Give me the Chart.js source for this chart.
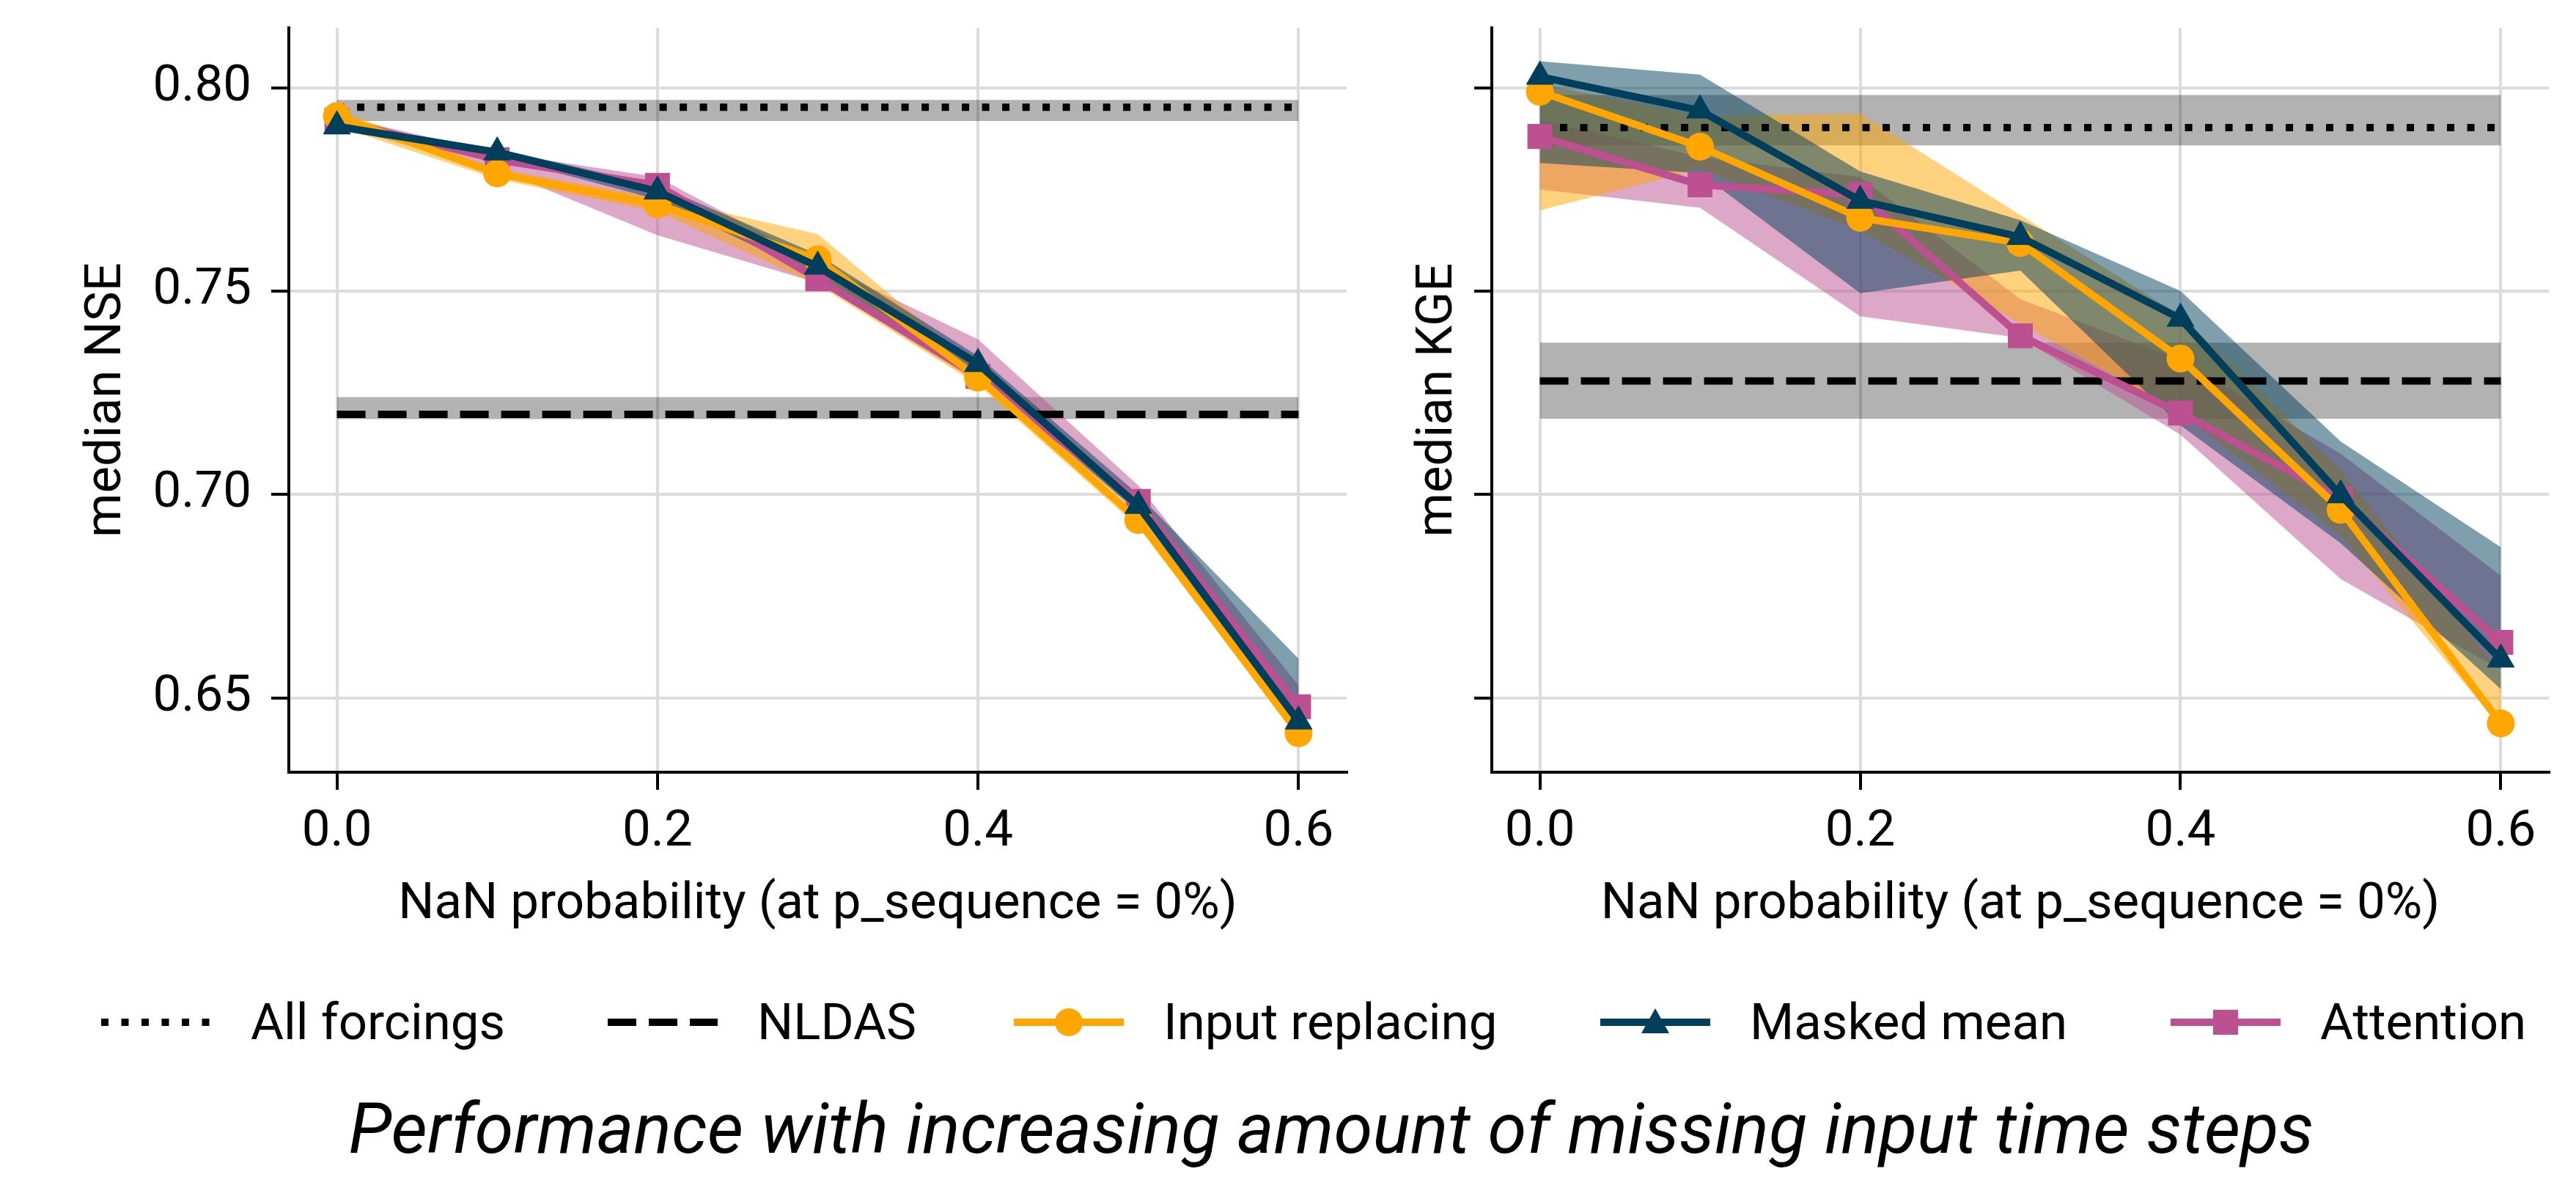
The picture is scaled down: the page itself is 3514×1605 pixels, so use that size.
<!DOCTYPE html>
<html lang="en">
<head>
  <meta charset="UTF-8" />
  <title>Performance with increasing amount of missing input time steps</title>
  <script src="https://cdn.jsdelivr.net/npm/chart.js"></script>
  <style>
    body {
      margin: 0;
      background: #fff;
      font-family: Roboto, sans-serif;
      color: #000;
    }

    #page {
      position: relative;
      width: 3514px;
      height: 1605px;
      overflow: hidden;
      background: #fff;
    }

    .plot {
      position: absolute;
      top: 0;
      height: 1300px;
    }

    #nseWrap { left: 0; width: 1900px; }
    #kgeWrap { left: 1900px; width: 1614px; }

    .legend-item {
      position: absolute;
      top: 1354px;
      height: 80px;
      display: flex;
      align-items: center;
      font-size: 69px;
      line-height: 80px;
      white-space: nowrap;
    }

    .legend-item svg { display: block; }
    .legend-item span { margin-left: 54px; }

    #title {
      position: absolute;
      top: 1489px;
      left: 59px;
      width: 3514px;
      text-align: center;
      font-style: italic;
      font-size: 96px;
      line-height: 100px;
      white-space: nowrap;
    }
  </style>
</head>
<body>
  <div id="page">
    <div class="plot" id="nseWrap"><canvas id="nseChart"></canvas></div>
    <div class="plot" id="kgeWrap"><canvas id="kgeChart"></canvas></div>

    <div class="legend-item" style="left:138px">
      <svg width="150" height="80"><line x1="0" y1="40" x2="150" y2="40" stroke="#000" stroke-width="10" stroke-dasharray="10 17.5"/></svg>
      <span>All forcings</span>
    </div>
    <div class="legend-item" style="left:829px">
      <svg width="150" height="80"><line x1="0" y1="40" x2="150" y2="40" stroke="#000" stroke-width="10" stroke-dasharray="39 17"/></svg>
      <span>NLDAS</span>
    </div>
    <div class="legend-item" style="left:1383px">
      <svg width="150" height="80"><line x1="0" y1="40" x2="150" y2="40" stroke="#ffa600" stroke-width="10"/><circle cx="75" cy="40" r="19" fill="#ffa600"/></svg>
      <span>Input replacing</span>
    </div>
    <div class="legend-item" style="left:2183px">
      <svg width="150" height="80"><line x1="0" y1="40" x2="150" y2="40" stroke="#003f5c" stroke-width="10"/><polygon points="75,21 94,55 56,55" fill="#003f5c"/></svg>
      <span>Masked mean</span>
    </div>
    <div class="legend-item" style="left:2961px">
      <svg width="150" height="80"><line x1="0" y1="40" x2="150" y2="40" stroke="#bc5090" stroke-width="10"/><rect x="58" y="23" width="34" height="34" fill="#bc5090"/></svg>
      <span>Attention</span>
    </div>

    <div id="title">Performance with increasing amount of missing input time steps</div>
  </div>

  <script>
    // x positions (NaN probability) and axis ticks
    const xValues = [0.0, 0.1, 0.2, 0.3, 0.4, 0.5, 0.6];
    const xTickValues = [0.0, 0.2, 0.4, 0.6];
    const yTickValues = [0.65, 0.70, 0.75, 0.80];

    // median NSE (left panel): median line + spread band
    const nseInputReplacing     = [0.7930, 0.7789, 0.7713, 0.7578, 0.7287, 0.6937, 0.6413];
    const nseInputReplacingLow  = [0.7905, 0.7775, 0.7695, 0.7515, 0.7270, 0.6920, 0.6405];
    const nseInputReplacingHigh = [0.7945, 0.7800, 0.7730, 0.7640, 0.7310, 0.6955, 0.6440];
    const nseMaskedMean         = [0.7905, 0.7841, 0.7745, 0.7560, 0.7321, 0.6972, 0.6442];
    const nseMaskedMeanLow      = [0.7895, 0.7830, 0.7725, 0.7535, 0.7300, 0.6955, 0.6420];
    const nseMaskedMeanHigh     = [0.7915, 0.7850, 0.7760, 0.7590, 0.7340, 0.7000, 0.6596];
    const nseAttention          = [0.7920, 0.7823, 0.7760, 0.7530, 0.7290, 0.6983, 0.6478];
    const nseAttentionLow       = [0.7905, 0.7800, 0.7637, 0.7520, 0.7275, 0.6960, 0.6440];
    const nseAttentionHigh      = [0.7930, 0.7840, 0.7780, 0.7570, 0.7381, 0.7022, 0.6530];
    // reference runs: [band low, median, band high]
    const nseAllForcings = [0.7918, 0.7952, 0.7970];
    const nseNldas       = [0.7185, 0.7197, 0.7239];

    // median KGE (right panel)
    const kgeInputReplacing     = [0.7990, 0.7855, 0.7680, 0.7618, 0.7334, 0.6962, 0.6437];
    const kgeInputReplacingLow  = [0.7698, 0.7800, 0.7650, 0.7420, 0.7200, 0.6900, 0.6428];
    const kgeInputReplacingHigh = [0.8010, 0.7930, 0.7936, 0.7687, 0.7440, 0.7060, 0.6560];
    const kgeMaskedMean         = [0.8027, 0.7944, 0.7722, 0.7633, 0.7432, 0.6998, 0.6594];
    const kgeMaskedMeanLow      = [0.7815, 0.7790, 0.7495, 0.7550, 0.7170, 0.6880, 0.6521];
    const kgeMaskedMeanHigh     = [0.8065, 0.8032, 0.7794, 0.7674, 0.7500, 0.7130, 0.6870];
    const kgeAttention          = [0.7880, 0.7761, 0.7737, 0.7390, 0.7200, 0.6990, 0.6636];
    const kgeAttentionLow       = [0.7750, 0.7705, 0.7438, 0.7385, 0.7147, 0.6792, 0.6568];
    const kgeAttentionHigh      = [0.7920, 0.7830, 0.7780, 0.7480, 0.7330, 0.7100, 0.6800];
    const kgeAllForcings = [0.7858, 0.7902, 0.7982];
    const kgeNldas       = [0.7186, 0.7279, 0.7373];

    const ORANGE = '#ffa600';
    const BLUE = '#003f5c';
    const PINK = '#bc5090';
    const GRAY_BAND = 'rgba(0, 0, 0, 0.3)';

    Chart.defaults.font.family = 'Roboto';
    Chart.defaults.color = '#000';

    function pts(values) {
      return xValues.map((x, i) => ({ x: x, y: values[i] }));
    }

    function flat(v) {
      return [{ x: xValues[0], y: v }, { x: xValues[xValues.length - 1], y: v }];
    }

    // upper edge + lower edge filled back to it
    function band(high, low, color, order) {
      return [
        { data: high, borderWidth: 0, borderColor: 'transparent', pointRadius: 0, fill: false, order: order },
        { data: low, borderWidth: 0, borderColor: 'transparent', pointRadius: 0, fill: '-1', backgroundColor: color, order: order }
      ];
    }

    function baseline(v, dash, order) {
      return {
        data: flat(v), borderColor: '#000', borderWidth: 10, borderDash: dash,
        borderCapStyle: 'butt', pointRadius: 0, fill: false, order: order
      };
    }

    function series(values, color, style, radius, order) {
      return {
        data: pts(values), borderColor: color, backgroundColor: color, borderWidth: 10,
        borderJoinStyle: 'round', borderCapStyle: 'round',
        pointStyle: style, pointRadius: radius, pointBorderWidth: 0,
        pointBackgroundColor: color, fill: false, order: order
      };
    }

    const gridStyle = { color: '#dcdcdc', lineWidth: 4, tickColor: '#000', tickWidth: 4, tickLength: 24 };
    const borderStyle = { color: '#000', width: 4 };

    function makePlot(id, cfg) {
      const datasets = [].concat(
        band(flat(cfg.allForcings[2]), flat(cfg.allForcings[0]), GRAY_BAND, 100),
        band(flat(cfg.nldas[2]), flat(cfg.nldas[0]), GRAY_BAND, 100),
        band(pts(cfg.attHigh), pts(cfg.attLow), 'rgba(188, 80, 144, 0.5)', 90),
        band(pts(cfg.irHigh), pts(cfg.irLow), 'rgba(255, 166, 0, 0.5)', 80),
        band(pts(cfg.mmHigh), pts(cfg.mmLow), 'rgba(0, 63, 92, 0.5)', 70),
        [
          baseline(cfg.allForcings[1], [10, 17.5], 50),
          baseline(cfg.nldas[1], [39, 17], 50),
          series(cfg.att, PINK, 'rect', 24, 30),
          series(cfg.ir, ORANGE, 'circle', 19, 20),
          series(cfg.mm, BLUE, 'triangle', 22, 10)
        ]
      );

      return new Chart(document.getElementById(id), {
        type: 'line',
        data: { datasets: datasets },
        options: {
          responsive: true,
          maintainAspectRatio: false,
          animation: false,
          events: [],
          layout: { padding: { top: 38, right: cfg.padRight, bottom: 0, left: 0 } },
          plugins: {
            legend: { display: false },
            tooltip: { enabled: false },
            filler: { drawTime: 'beforeDatasetsDraw' }
          },
          scales: {
            x: {
              type: 'linear',
              min: -0.03,
              max: 0.63,
              afterBuildTicks: s => { s.ticks = xTickValues.map(v => ({ value: v })); },
              afterFit: s => { s.height = 247; s.paddingLeft = 0; s.paddingRight = 0; },
              ticks: { font: { size: 69 }, padding: 17, maxRotation: 0, autoSkip: false, callback: v => v.toFixed(1) },
              grid: gridStyle,
              border: borderStyle,
              title: {
                display: true,
                text: 'NaN probability (at p_sequence = 0%)',
                font: { size: 69 },
                padding: { top: 0, bottom: 24 }
              }
            },
            y: {
              type: 'linear',
              min: 0.6317,
              max: 0.8147,
              afterBuildTicks: s => { s.ticks = yTickValues.map(v => ({ value: v })); },
              afterFit: s => { s.width = cfg.yAxisWidth; s.paddingTop = 0; s.paddingBottom = 0; },
              ticks: { display: cfg.yLabels, font: { size: 69 }, padding: 27, callback: v => v.toFixed(2) },
              grid: gridStyle,
              border: borderStyle,
              title: {
                display: true,
                text: cfg.yTitle,
                font: { size: 69 },
                padding: { top: cfg.yTitlePad, bottom: 0 }
              }
            }
          }
        }
      });
    }

    makePlot('nseChart', {
      yTitle: 'median NSE', yLabels: true, yAxisWidth: 394, yTitlePad: 105, padRight: 63,
      allForcings: nseAllForcings, nldas: nseNldas,
      ir: nseInputReplacing, irLow: nseInputReplacingLow, irHigh: nseInputReplacingHigh,
      mm: nseMaskedMean, mmLow: nseMaskedMeanLow, mmHigh: nseMaskedMeanHigh,
      att: nseAttention, attLow: nseAttentionLow, attHigh: nseAttentionHigh
    });

    makePlot('kgeChart', {
      yTitle: 'median KGE', yLabels: false, yAxisWidth: 135, yTitlePad: 21, padRight: 37,
      allForcings: kgeAllForcings, nldas: kgeNldas,
      ir: kgeInputReplacing, irLow: kgeInputReplacingLow, irHigh: kgeInputReplacingHigh,
      mm: kgeMaskedMean, mmLow: kgeMaskedMeanLow, mmHigh: kgeMaskedMeanHigh,
      att: kgeAttention, attLow: kgeAttentionLow, attHigh: kgeAttentionHigh
    });
  </script>
</body>
</html>
